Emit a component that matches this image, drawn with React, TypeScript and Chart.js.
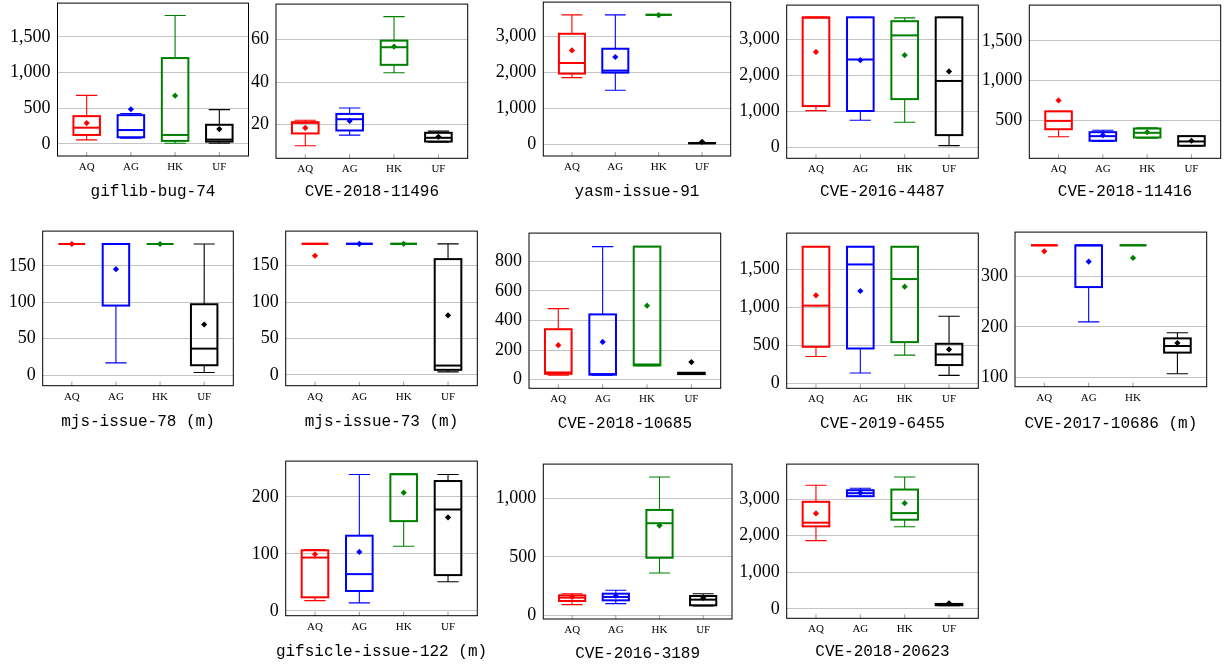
import React, { useEffect, useRef } from "react";
import { Chart, registerables } from "chart.js";

Chart.register(...registerables);

// ---------- data ----------
const tools = ["AQ", "AG", "HK", "UF"];

// each row: [whiskerLow, q1, median, q3, whiskerHigh, mean] for AQ, AG, HK, UF
const giflibBug74 = [
  [56, 125, 227, 389, 680, 292],
  [79, 93, 194, 403, 426, 486],
  [9, 42, 125, 1204, 1801, 676],
  [9, 32, 60, 268, 481, 208],
];
const cve2018_11496 = [
  [10, 15.8, 20.8, 21.1, 22, 18.4],
  [15, 17.2, 22.5, 25, 27.8, 21.7],
  [44.4, 48.1, 56.4, 59.5, 70.8, 56.7],
  [11.7, 12, 13.75, 16.1, 16.9, 14.2],
];
const yasmIssue91 = [
  [1855, 1966, 2261, 3074, 3600, 2612],
  [1504, 1994, 2050, 2658, 3600, 2428],
  [3600, 3600, 3600, 3600, 3600, 3590],
  [25, 30, 30, 35, 40, 70],
];
const cve2016_4487 = [
  [1018, 1146, 3600, 3610, 3610, 2650],
  [752, 1009, 2439, 3610, 3610, 2421],
  [697, 1339, 3109, 3503, 3595, 2558],
  [46, 339, 1843, 3610, 3610, 2109],
];
const cve2018_11416 = [
  [292, 387, 492, 612, 612, 750],
  [233, 242, 300, 350, 375, 312],
  [275, 283, 342, 396, 404, 350],
  [175, 179, 233, 300, 300, 242],
];
const mjsIssue78 = [
  [180, 180, 180, 180, 180, 180],
  [16.8, 95.5, 180, 180, 180, 145.5],
  [180, 180, 180, 180, 180, 180],
  [3.6, 13.6, 36.4, 97.3, 180, 69.5],
];
const mjsIssue73 = [
  [180, 180, 180, 180, 180, 163.6],
  [180, 180, 180, 180, 180, 180],
  [180, 180, 180, 180, 180, 180],
  [4, 6.8, 12.7, 159, 180, 81.8],
];
const cve2018_10685 = [
  [31, 40, 49, 341, 480, 233],
  [31, 34, 38, 441, 899, 255],
  [94, 96, 103, 899, 899, 500],
  [36, 38, 43, 47, 49, 119],
];
const cve2019_6455 = [
  [351, 478, 1022, 1800, 1800, 1158],
  [132, 456, 1566, 1800, 1800, 1215],
  [368, 540, 1373, 1800, 1800, 1272],
  [101, 237, 377, 518, 882, 443],
];
const cve2017_10686 = [
  [360.6, 360.6, 360.6, 360.6, 360.6, 348.9],
  [210, 278.5, 360.6, 360.6, 360.6, 328.7],
  [360.6, 360.6, 360.6, 360.6, 360.6, 335.8],
  [107.8, 149.5, 162.5, 177.5, 188.6, 168.4],
];
const gifsicleIssue122 = [
  [18, 23.8, 93.6, 106.4, 107.6, 99.4],
  [14, 34.9, 64.5, 132, 239.5, 103.5],
  [113.4, 157.6, 240, 240, 240, 207.6],
  [51.2, 62.8, 178, 228, 239.5, 164],
];
const cve2016_3189 = [
  [91, 122.5, 151, 171, 185, 157],
  [100, 128, 157, 185, 214, 165],
  [362, 493, 789, 903, 1185, 769],
  [80, 85.5, 134, 165, 185, 148],
];
const cve2018_20623 = [
  [1868, 2257, 2357, 2928, 3382, 2611],
  [3082, 3082, 3164, 3246, 3300, 3173],
  [2248, 2439, 2620, 3264, 3608, 2892],
  [90, 100, 118, 135, 145, 154],
];

const panelTitles = [
  "giflib-bug-74",
  "CVE-2018-11496",
  "yasm-issue-91",
  "CVE-2016-4487",
  "CVE-2018-11416",
  "mjs-issue-78 (m)",
  "mjs-issue-73 (m)",
  "CVE-2018-10685",
  "CVE-2019-6455",
  "CVE-2017-10686 (m)",
  "gifsicle-issue-122 (m)",
  "CVE-2016-3189",
  "CVE-2018-20623",
];
const panelData = [
  giflibBug74, cve2018_11496, yasmIssue91, cve2016_4487, cve2018_11416,
  mjsIssue78, mjsIssue73, cve2018_10685, cve2019_6455, cve2017_10686,
  gifsicleIssue122, cve2016_3189, cve2018_20623,
];
const panelYTicks = [
  [0, 500, 1000, 1500],
  [20, 40, 60],
  [0, 1000, 2000, 3000],
  [0, 1000, 2000, 3000],
  [500, 1000, 1500],
  [0, 50, 100, 150],
  [0, 50, 100, 150],
  [0, 200, 400, 600, 800],
  [0, 500, 1000, 1500],
  [100, 200, 300],
  [0, 100, 200],
  [0, 500, 1000],
  [0, 1000, 2000, 3000],
];
const panelXLabels = [
  tools, tools, tools, tools, tools,
  tools, tools, tools, tools, ["AQ", "AG", "HK", ""],
  tools, tools, tools,
];
// y axis limits [min, max]
const panelYRange = [
  [-170, 1975],
  [4.1, 76.7],
  [-325, 3955],
  [-305, 3950],
  [21, 1950],
  [-14.5, 197.7],
  [-15, 197.5],
  [-58, 990],
  [-70, 1980],
  [82.4, 386.7],
  [-8.5, 263],
  [-32, 1296],
  [-258, 3960],
];

// ---------- layout (plot frame [left, top, right, bottom], title centre y) ----------
const panelFrames = [
  [57.5, 2, 248.5, 156],
  [276, 3.3, 467.7, 158.3],
  [543.3, 1.7, 730.7, 156],
  [786.7, 4, 978.3, 158.3],
  [1029.3, 4, 1220.7, 158.3],
  [42.7, 230, 233.3, 385.7],
  [285.7, 230, 477.3, 385.7],
  [529, 232.3, 720.7, 388.3],
  [786.7, 232.3, 978.3, 388.3],
  [1015, 231, 1206.7, 386.7],
  [285.7, 460, 477.3, 615.7],
  [543.3, 463.3, 732, 619],
  [786.7, 463.3, 978.3, 618.3],
];
const panelTitleY = [
  191.7, 191.7, 191.7, 191.7, 191.7,
  421.7, 421.7, 423.3, 423.3, 423.3,
  651.7, 653.3, 651.7,
];

const toolColors = ["#ff0000", "#0000ff", "#008000", "#000000"];
const SERIF = "'Liberation Serif', 'Times New Roman', serif";
const MONO = "'Liberation Mono', 'DejaVu Sans Mono', monospace";

function makeBoxPlugin(rows: number[][], xLabels: string[], title: string, titleYc: number) {
  return {
    id: "boxes",
    beforeDatasetsDraw(chart: any) {
      const { ctx, chartArea } = chart;
      const x = chart.scales.x;
      const y = chart.scales.y;
      ctx.save();
      // inner x tick marks
      ctx.strokeStyle = "#808080";
      ctx.lineWidth = 0.8;
      xLabels.forEach((lab, i) => {
        if (!lab) return;
        const px = x.getPixelForValue(i + 1);
        ctx.beginPath();
        ctx.moveTo(px, chartArea.bottom);
        ctx.lineTo(px, chartArea.bottom - 4);
        ctx.stroke();
      });
      rows.forEach((r, i) => {
        const [lo, q1, med, q3, hi] = r;
        const cx = x.getPixelForValue(i + 1);
        const half = x.getPixelForValue(i + 1.3) - cx;
        const cap = half * 0.8;
        const yLo = y.getPixelForValue(lo);
        const yQ1 = y.getPixelForValue(q1);
        const yMed = y.getPixelForValue(med);
        const yQ3 = y.getPixelForValue(q3);
        const yHi = y.getPixelForValue(hi);
        ctx.strokeStyle = toolColors[i];
        ctx.lineWidth = 1.1;
        ctx.beginPath();
        ctx.moveTo(cx, yQ3);
        ctx.lineTo(cx, yHi);
        ctx.moveTo(cx - cap, yHi);
        ctx.lineTo(cx + cap, yHi);
        ctx.moveTo(cx, yQ1);
        ctx.lineTo(cx, yLo);
        ctx.moveTo(cx - cap, yLo);
        ctx.lineTo(cx + cap, yLo);
        ctx.stroke();
        ctx.lineWidth = 2;
        ctx.strokeRect(cx - half, yQ3, 2 * half, yQ1 - yQ3);
        ctx.beginPath();
        ctx.moveTo(cx - half, yMed);
        ctx.lineTo(cx + half, yMed);
        ctx.stroke();
      });
      ctx.restore();
    },
    afterDraw(chart: any) {
      const { ctx, chartArea } = chart;
      ctx.save();
      ctx.strokeStyle = "#000";
      ctx.lineWidth = 1;
      ctx.strokeRect(
        chartArea.left,
        chartArea.top,
        chartArea.right - chartArea.left,
        chartArea.bottom - chartArea.top
      );
      // panel caption
      ctx.fillStyle = "#000";
      ctx.font = `16px ${MONO}`;
      ctx.textAlign = "center";
      ctx.textBaseline = "middle";
      ctx.fillText(title, (chartArea.left + chartArea.right) / 2, titleYc);
      ctx.restore();
    },
  };
}

function Panel({ index }: { index: number }) {
  const ref = useRef<HTMLCanvasElement>(null);
  const [L, T, R, B] = panelFrames[index];
  const titleY = panelTitleY[index];
  const cl = Math.floor(L) - 62;
  const ct = Math.floor(T) - 2;
  const padR = 16;
  const cw = Math.ceil(R) + padR - cl;
  const ch = Math.ceil(titleY + 11) - ct;

  useEffect(() => {
    const rows = panelData[index];
    const xLabels = panelXLabels[index];
    const yTicks = panelYTicks[index];
    const [yMin, yMax] = panelYRange[index];
    const chart = new Chart(ref.current as HTMLCanvasElement, {
      type: "scatter",
      data: {
        datasets: [
          {
            data: rows.map((r, i) => ({ x: i + 1, y: r[5] })),
            pointStyle: "rectRot",
            pointRadius: 3.1,
            pointHoverRadius: 3.1,
            pointBackgroundColor: toolColors,
            pointBorderColor: toolColors,
            pointBorderWidth: 0,
          } as any,
        ],
      },
      options: {
        responsive: false,
        animation: false,
        devicePixelRatio: 1,
        events: [],
        layout: { padding: { left: 0, top: T - ct, right: cl + cw - R, bottom: 0 } },
        plugins: { legend: { display: false }, tooltip: { enabled: false } },
        scales: {
          x: {
            type: "linear",
            min: 0.34,
            max: 4.66,
            grid: { display: false, drawTicks: false },
            border: { display: false },
            afterBuildTicks: (s: any) => {
              s.ticks = [1, 2, 3, 4].map((v) => ({ value: v }));
            },
            afterFit: (s: any) => {
              s.height = ct + ch - B;
              s.paddingLeft = 0;
              s.paddingRight = 0;
            },
            ticks: {
              callback: (_v: any, i: number) => xLabels[i],
              font: { family: SERIF, size: 11 },
              color: "#000",
              padding: 4.7,
              maxRotation: 0,
              autoSkip: false,
            },
            title: { display: false },
          },
          y: {
            min: yMin,
            max: yMax,
            afterBuildTicks: (s: any) => {
              s.ticks = yTicks.map((v) => ({ value: v }));
            },
            afterFit: (s: any) => {
              s.width = L - cl;
              s.paddingTop = 0;
              s.paddingBottom = 0;
            },
            grid: { color: "#c4c4c4", lineWidth: 1, drawTicks: false },
            border: { display: false },
            ticks: {
              callback: (v: any) => Number(v).toLocaleString("en-US"),
              font: { family: SERIF, size: 18 },
              color: "#000",
              padding: 7,
            },
          },
        } as any,
      },
      plugins: [makeBoxPlugin(rows, xLabels, panelTitles[index], titleY - ct) as any],
    });
    return () => chart.destroy();
  }, [index]);

  return (
    <canvas
      ref={ref}
      width={cw}
      height={ch}
      style={{ position: "absolute", left: cl, top: ct, width: cw, height: ch }}
    />
  );
}

export default function App() {
  return (
    <div
      style={{
        position: "fixed",
        left: 0,
        top: 0,
        width: 1230,
        height: 669,
        background: "#fff",
        overflow: "hidden",
      }}
    >
      {panelTitles.map((_, i) => (
        <Panel key={i} index={i} />
      ))}
    </div>
  );
}
